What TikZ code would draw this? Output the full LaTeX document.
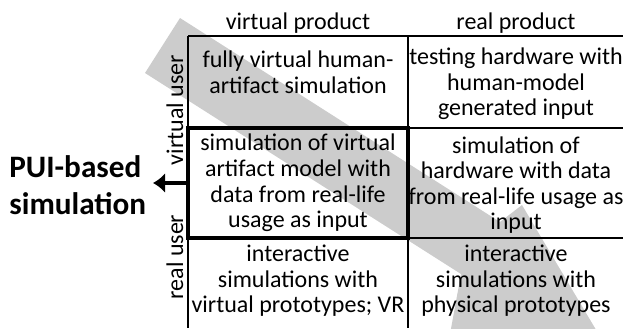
\documentclass[tikz,border=0pt]{standalone}
\usepackage{fontspec}
\setmainfont{Carlito}
\usetikzlibrary{arrows.meta}

\begin{document}
\begin{tikzpicture}[x=0.5pt,y=-0.5pt,>={Latex[length=6pt,width=10pt]},
  cell/.style={align=center,inner sep=0pt,font=\fontsize{12}{12.8}\selectfont},
  usr/.style={cell,rotate=90},
  grid/.style={line width=1.1pt},
  hl/.style={line width=2.2pt}]
  \useasboundingbox (0,0) rectangle (623,328);
  % big gray arrow behind the table
  \begin{scope}
    \clip (0,0) rectangle (623,328);
    \fill[gray!40] (180,18) -- (500,222) -- (522,205) -- (608,350) -- (448,345) -- (461,274) -- (145,73) -- cycle;
  \end{scope}
  % table lines
  \draw[grid] (188,36) -- (623,36) (188,128) -- (623,128) (188,238) -- (623,238);
  \draw[grid] (188,36) -- (188,328) (408,36) -- (408,328);

  \node[cell,anchor=base] (vprod) at (298,29) {virtual product};
  \node[cell,anchor=base] (rprod) at (516,29) {real product};
  \node[usr] (vusr) at (175,110) {virtual user};
  \node[usr] (rusr) at (175,257) {real user};

  \node[cell] (c11) at (298,72) {fully virtual human-\\artifact simulation};
  \node[cell] (c12) at (516,84) {testing hardware with\\human-model\\generated input};
  \node[cell,draw,hl,minimum width=110pt,minimum height=55pt] (c21) at (298,183)
    {simulation of virtual\\artifact model with\\data from real-life\\usage as input};
  \node[cell] (c22) at (516,185) {simulation of\\hardware with data\\from real-life usage as\\input};
  \node[cell] (c31) at (298,281) {interactive\\simulations with\\virtual prototypes; VR};
  \node[cell] (c32) at (516,281) {interactive\\simulations with\\physical prototypes};

  \node[font=\bfseries\fontsize{15.6}{18.5}\selectfont,align=left,inner sep=0pt,anchor=north west] (pui) at (9,155) {PUI-based\\simulation};
  \coordinate (arrtip) at (153,183);
  \draw[->,hl] (c21.west) -- (arrtip);
\end{tikzpicture}
\end{document}
